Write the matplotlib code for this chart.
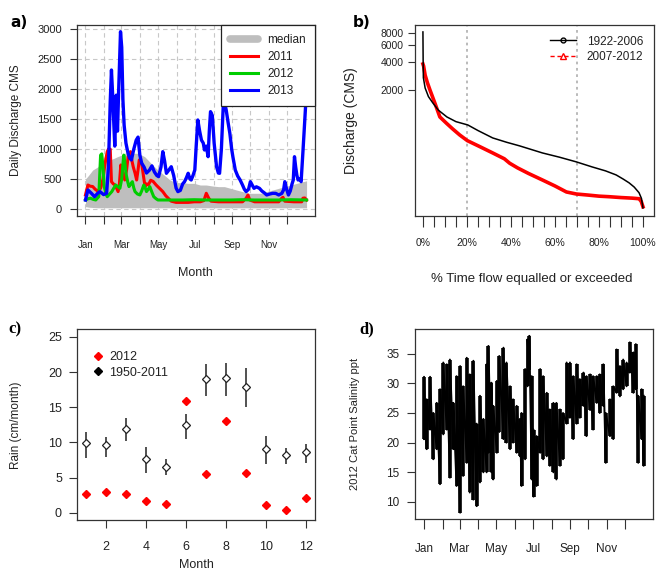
import numpy as np
import matplotlib
matplotlib.use("Agg")
import matplotlib.pyplot as plt
from matplotlib.lines import Line2D

plt.rcParams['font.family'] = ['Liberation Sans', 'DejaVu Sans']
TXT = '#222222'

# ---- panel a: daily discharge (day of year, CMS) ----
month_days = [0, 31, 59, 90, 120, 151, 181, 212, 243, 273, 304, 334]
month_labels = ['Jan', '', 'Mar', '', 'May', '', 'Jul', '', 'Sep', '', 'Nov', '']

med_day = [0, 5, 12, 20, 26, 33, 40, 47, 53, 60, 70, 80, 87, 93, 98, 105, 114, 120, 130,
           140, 150, 160, 170, 180, 190, 200, 210, 220, 230, 240, 250, 260, 270, 280, 290,
           300, 310, 320, 330, 340, 350, 360, 366]
med_hi = [500, 560, 651, 700, 763, 790, 818, 845, 873, 900, 957, 930, 930, 900, 873, 800, 706,
          651, 568, 484, 440, 440, 428, 428, 400, 400, 384, 373, 373, 345, 317, 290, 262, 262,
          262, 290, 317, 345, 373, 400, 428, 456, 470]
med_lo = [40, 30, 25, 20, 20, 20, 20, 20, 20, 20, 20, 20, 20, 20, 20, 20, 20, 20, 20, 20, 20,
          20, 20, 20, 20, 20, 20, 20, 20, 20, 20, 20, 20, 20, 20, 20, 20, 20, 20, 20, 20, 20, 20]

q2011_day = [0, 4, 8, 12, 16, 20, 25, 29, 32, 36, 38, 41, 43, 46, 49, 54, 56, 58.5, 62, 65, 68,
             70.6, 74.5, 77, 79, 82, 84.7, 87, 89, 93, 96, 98.6, 101, 104, 108, 112, 117, 122,
             128, 133, 137, 142, 150, 160, 170, 180, 190, 196, 200, 204, 208, 220, 240, 260,
             266, 269, 272, 280, 300, 320, 325, 327, 330, 345, 358, 360, 363, 366]
q2011 = [234, 400, 380, 375, 330, 300, 345, 500, 735, 957, 1000, 1000, 456, 420, 400, 290, 400,
         735, 600, 484, 650, 873, 957, 800, 706, 600, 484, 650, 818, 765, 550, 375, 420, 400,
         480, 460, 400, 350, 290, 220, 179, 130, 110, 110, 110, 120, 120, 140, 262, 180, 130,
         120, 120, 120, 180, 234, 150, 120, 120, 120, 180, 195, 130, 120, 120, 180, 184, 150]

q2012_day = [0, 4, 8, 13, 17, 22, 23.7, 25, 27, 29, 31, 34, 36, 40, 43.6, 47, 50, 54, 57, 60, 62,
             63.4, 65, 67, 70, 72, 75, 77.6, 80, 82, 86, 90, 93, 96.5, 99, 101, 104, 106.5, 110,
             113, 117, 120, 140, 160, 180, 200, 220, 240, 260, 280, 300, 320, 340, 366]
q2012 = [150, 170, 180, 160, 150, 205, 596, 900, 920, 700, 373, 250, 205, 250, 290, 350, 400, 370,
         345, 500, 750, 900, 800, 596, 450, 373, 420, 456, 350, 290, 250, 234, 300, 400, 350, 290,
         330, 373, 280, 205, 170, 150, 150, 150, 155, 150, 150, 150, 155, 150, 150, 150, 155, 150]

q2013_day = [0, 4, 10, 15, 20, 24, 30, 35, 38, 41, 43, 45, 47, 48.5, 51, 53, 55, 58, 60, 62, 64,
             67, 70, 73, 76, 80, 84, 87, 90, 93, 97, 101, 106, 110, 114, 118, 121, 125, 128, 131,
             134, 138, 142, 146, 150, 153, 157, 161, 164, 167, 170, 173, 175, 178, 181, 183, 186,
             189, 192, 195, 197, 200, 203, 205, 207, 210, 213, 217, 220, 222, 225, 228, 231, 233,
             236, 239, 242, 244, 248, 252, 256, 260, 263, 266, 270, 273, 276, 279, 283, 288, 292,
             296, 300, 305, 310, 315, 320, 325, 328, 330, 333, 336, 339, 342, 344, 346, 348, 350,
             352, 355, 357, 360, 362, 364, 366]
q2013 = [150, 317, 260, 205, 260, 290, 240, 262, 700, 1800, 2320, 1900, 1400, 1050, 1900, 1300,
         2000, 2960, 2700, 1820, 1400, 1100, 950, 850, 818, 1000, 1150, 1200, 900, 765, 700, 600,
         650, 720, 620, 560, 540, 700, 957, 800, 596, 650, 706, 560, 350, 290, 310, 420, 456, 520,
         596, 500, 484, 560, 651, 1000, 1486, 1300, 1150, 1100, 985, 1050, 873, 1300, 1625, 1560,
         1100, 706, 600, 596, 1000, 1708, 1750, 1650, 1450, 1264, 1000, 873, 650, 550, 484, 400,
         330, 290, 330, 456, 400, 345, 370, 345, 300, 270, 234, 250, 262, 260, 234, 260, 320, 456,
         330, 234, 300, 420, 484, 873, 700, 560, 484, 500, 456, 957, 1300, 1650, 2000]

# ---- panel b: flow duration curves ----
fdc_hist_pct = [0, 0.1, 0.2, 1, 2.5, 4.5, 7, 10.9, 15, 20.4, 25, 31.7, 38, 43.9, 54.3, 62, 69.7,
                76.9, 83, 87.8, 91, 93.7, 96, 98.2, 99.3, 100]
fdc_hist = [8300, 4000, 2700, 2100, 1700, 1455, 1220, 1032, 920, 848, 740, 617, 555, 508, 427,
            385, 343, 303, 275, 249, 225, 205, 185, 161, 140, 111]
fdc_recent_pct = [0, 0.3, 1, 2, 3.2, 5.4, 7.7, 10.7, 13.5, 16.7, 20.2, 25.8, 31.7, 37, 39.4, 43,
                  48, 54.3, 60, 65.2, 69.7, 75, 80, 84.6, 90, 95, 98.2, 99.2, 100]
fdc_recent = [3780, 3600, 2880, 2400, 2000, 1455, 1032, 884, 770, 664, 577, 499, 427, 370, 332,
              296, 258, 220, 190, 164, 156, 152, 148, 146, 143, 141, 139, 130, 114]

# ---- panel c: monthly rain ----
months = [1, 2, 3, 4, 5, 6, 7, 8, 9, 10, 11, 12]
rain_2012 = [2.65, 2.98, 2.65, 1.70, 1.23, 15.84, 5.58, 13.0, 5.72, 1.13, 0.43, 2.13]
rain_mean = [9.88, 9.6, 11.87, 7.71, 6.57, 12.43, 19.05, 19.15, 17.87, 9.03, 8.18, 8.65]
rain_hi = [11.54, 10.78, 13.52, 9.41, 7.66, 14.09, 21.13, 21.28, 20.52, 10.92, 9.27, 9.79]
rain_lo = [7.85, 7.99, 10.21, 5.72, 5.34, 10.45, 16.6, 16.6, 15.04, 6.9, 6.9, 7.14]

# ---- panel d: salinity envelope (day, low, high) ----
sal_day = [0, 4.4, 10, 15.5, 21, 26.6, 32, 37.7, 43, 48.7, 54, 60, 65, 71, 76, 82, 87.5, 93,
           98.6, 104, 107, 112, 115, 121, 125, 132, 137, 143, 148, 154, 159.5, 162, 168, 172,
           175, 179, 182, 187, 193, 198, 204, 209, 215, 220, 226, 231, 237, 242.5, 248, 253.6,
           259, 265, 270, 276, 281, 287, 292, 298, 302, 309, 314.5, 320, 325.6, 331, 336.6, 342,
           348, 352, 356, 361.6, 365]
sal_hi = [31.1, 27.3, 31.1, 25, 26.7, 29, 33.5, 33.2, 34, 26.7, 31.2, 32.9, 29.5, 34.3, 31.5,
          33.8, 23.2, 27.9, 24, 33.2, 36.3, 30.1, 26.2, 30.4, 34.6, 36, 33.5, 29.5, 27.3, 26.2,
          24, 25, 32.4, 37.4, 38, 31.2, 22.2, 21.1, 32.4, 31.2, 28.4, 25.6, 26.7, 26.7, 25.6, 25,
          33.5, 33.5, 31.2, 33.2, 30.7, 31.8, 31.2, 31.5, 31.2, 31.2, 31.5, 33.2, 25, 27.3, 29.5,
          35.7, 32.9, 34, 33.5, 36.9, 35.2, 36.6, 27.9, 29, 27.9]
sal_lo = [20.6, 18.9, 22.2, 17.2, 18.9, 13, 21.4, 22.2, 14.1, 18.9, 12.7, 8.2, 14.4, 16.6, 11.6,
          10.4, 9.3, 13.3, 15, 15, 18.3, 15, 13.8, 18.3, 21.8, 20.6, 20, 18.9, 20, 18.3, 17.7,
          12.7, 17.2, 29.5, 32.4, 13.8, 10.9, 12.7, 18.3, 17.2, 17.7, 16.1, 15, 13.8, 16.1, 17.2,
          23.2, 24.2, 20.6, 23.2, 24.2, 26.2, 21.1, 25.5, 22.2, 26.7, 25, 26.2, 16.6, 21.1, 20.6,
          28.4, 27.8, 29, 29.5, 31.8, 28.4, 29, 16.6, 20.6, 16.1]

fig = plt.figure(figsize=(6.6, 5.72), dpi=100)


def style_axes(ax):
    for s in ax.spines.values():
        s.set_color('#333333')
        s.set_linewidth(0.9)
    ax.tick_params(colors='#333333', labelcolor=TXT, width=0.8)


# a) ------------------------------------------------------------
ax = fig.add_axes([0.1167, 0.6224, 0.3606, 0.3339])
style_axes(ax)
for d in month_days:
    ax.axvline(d, color='#c8c8c8', ls=(0, (4, 3)), lw=0.8, zorder=0)
for v in range(0, 3001, 500):
    ax.axhline(v, color='#c8c8c8', ls=(0, (4, 3)), lw=0.8, zorder=0)
ax.fill_between(med_day, med_lo, med_hi, color='#bebebe', lw=0, zorder=1)
ax.plot(q2011_day, q2011, color='#ff0000', lw=2.2, zorder=2)
ax.plot(q2012_day, q2012, color='#00cd00', lw=2.2, zorder=3)
ax.plot(q2013_day, q2013, color='#0000ff', lw=2.4, zorder=4)
ax.set_xlim(-14, 380)
ax.set_ylim(-117, 3072)
ax.set_yticks(range(0, 3001, 500))
ax.set_xticks(month_days)
ax.set_xticklabels(month_labels)
ax.tick_params(axis='x', length=6, pad=11, labelsize=7)
ax.tick_params(axis='y', length=5, pad=6, labelsize=8)
ax.set_xlabel('Month', fontsize=9, color=TXT)
ax.xaxis.set_label_coords(0.496, -0.267)
ax.set_ylabel('Daily Discharge CMS', fontsize=8.5, color=TXT)
ax.yaxis.set_label_coords(-0.232, 0.5)
handles = [Line2D([], [], color='#bebebe', lw=5.5, solid_capstyle='round'),
           Line2D([], [], color='#ff0000', lw=2.2),
           Line2D([], [], color='#00cd00', lw=2.2),
           Line2D([], [], color='#0000ff', lw=2.2)]
leg = ax.legend(handles, ['median', '2011', '2012', '2013'], loc='upper right',
                bbox_to_anchor=(1, 1), borderaxespad=0, fancybox=False, framealpha=1,
                edgecolor='#222222', fontsize=8.5, handlelength=2.4, handletextpad=0.8,
                labelspacing=0.42, borderpad=0.75)
leg.get_frame().set_linewidth(0.9)
leg.set_zorder(10)
for t in leg.get_texts():
    t.set_color(TXT)
fig.text(0.015, 0.952, 'a)', fontsize=11, fontweight='bold', family='DejaVu Sans')

# b) ------------------------------------------------------------
ax = fig.add_axes([0.6288, 0.6224, 0.3621, 0.3339])
style_axes(ax)
ax.set_yscale('log')
ax.axvline(20, color='#b4b4b4', ls=(0, (1.5, 2)), lw=1.3, zorder=0)
ax.axvline(70, color='#b4b4b4', ls=(0, (1.5, 2)), lw=1.3, zorder=0)
ax.plot(fdc_hist_pct, fdc_hist, color='black', lw=1.1, zorder=3)
ax.plot(fdc_recent_pct, fdc_recent, color='#ff0000', lw=2.6, zorder=2)
ax.set_xlim(-3.6, 105)
ax.set_ylim(91, 9840)
ax.set_yticks([2000, 4000, 6000, 8000])
ax.set_yticklabels(['2000', '4000', '6000', '8000'])
ax.yaxis.set_minor_locator(matplotlib.ticker.NullLocator())
ax.set_xticks(range(0, 101, 5))
ax.set_xticklabels([f'{p}%' if p % 20 == 0 else '' for p in range(0, 101, 5)])
ax.tick_params(axis='x', length=8, pad=8, labelsize=7.5)
ax.tick_params(axis='y', length=5, pad=3, labelsize=7.5)
ax.set_xlabel('% Time flow equalled or exceeded', fontsize=9.5, color=TXT)
ax.xaxis.set_label_coords(0.49, -0.298)
ax.set_ylabel('Discharge (CMS)', fontsize=10, color=TXT)
ax.yaxis.set_label_coords(-0.238, 0.5)
handles = [Line2D([], [], color='black', lw=1, marker='o', ms=3.5, mfc='none'),
           Line2D([], [], color='#ff0000', lw=1, ls=(0, (3, 2)), marker='^', ms=4.5, mfc='none')]
leg = ax.legend(handles, ['1922-2006', '2007-2012'], loc='upper right', frameon=False,
                fontsize=8.5, handlelength=2.2, handletextpad=0.9, labelspacing=0.3,
                borderaxespad=0.5)
for t in leg.get_texts():
    t.set_color(TXT)
fig.text(0.535, 0.952, 'b)', fontsize=11, fontweight='bold', family='DejaVu Sans')

# c) ------------------------------------------------------------
ax = fig.add_axes([0.117, 0.0904, 0.3602, 0.3339])
style_axes(ax)
ax.vlines(months, rain_lo, rain_hi, color='#222222', lw=1.1, zorder=2)
ax.plot(months, rain_mean, ls='none', marker='D', ms=4.5, mfc='white', mec='#222222',
        mew=0.9, zorder=3)
ax.plot(months, rain_2012, ls='none', marker='D', ms=4, color='#ff0000', zorder=3)
ax.set_xlim(0.56, 12.44)
ax.set_ylim(-1.04, 26.06)
ax.set_xticks([2, 4, 6, 8, 10, 12])
ax.set_yticks([0, 5, 10, 15, 20, 25])
ax.tick_params(axis='x', length=6, pad=9, labelsize=9)
ax.tick_params(axis='y', length=6, pad=5, labelsize=9)
ax.set_xlabel('Month', fontsize=9, color=TXT)
ax.xaxis.set_label_coords(0.5, -0.205)
ax.set_ylabel('Rain (cm/month)', fontsize=8.5, color=TXT)
ax.yaxis.set_label_coords(-0.234, 0.5)
handles = [Line2D([], [], ls='none', marker='D', ms=4, color='#ff0000'),
           Line2D([], [], ls='none', marker='D', ms=4, color='black')]
leg = ax.legend(handles, ['2012', '1950-2011'], loc='upper left', frameon=False,
                fontsize=9, handlelength=1, handletextpad=0.4, labelspacing=0.25,
                bbox_to_anchor=(0.04, 0.91), borderaxespad=0)
for t in leg.get_texts():
    t.set_color(TXT)
fig.text(0.012, 0.418, 'c)', fontsize=12, fontweight='bold', family='Liberation Serif')

# d) ------------------------------------------------------------
ax = fig.add_axes([0.6288, 0.0921, 0.361, 0.3322])
style_axes(ax)
xs = np.repeat(sal_day, 2)
ys = np.column_stack([sal_lo, sal_hi]).ravel()
ax.vlines(sal_day, sal_lo, sal_hi, color='black', lw=2.6)
ax.plot(xs, ys, color='black', lw=1.4)
ax.set_xlim(-15, 381)
ax.set_ylim(7.08, 39.1)
ax.set_xticks(month_days)
ax.set_xticklabels(month_labels)
ax.set_yticks([10, 15, 20, 25, 30, 35])
ax.tick_params(axis='x', length=7, pad=10, labelsize=8.5)
ax.tick_params(axis='y', length=6, pad=5, labelsize=8.5)
ax.set_ylabel('2012 Cat Point Salinity ppt', fontsize=8, color=TXT)
ax.yaxis.set_label_coords(-0.231, 0.5)
fig.text(0.545, 0.418, 'd)', fontsize=12, fontweight='bold', family='Liberation Serif')

fig.savefig('out.png', dpi=100)
